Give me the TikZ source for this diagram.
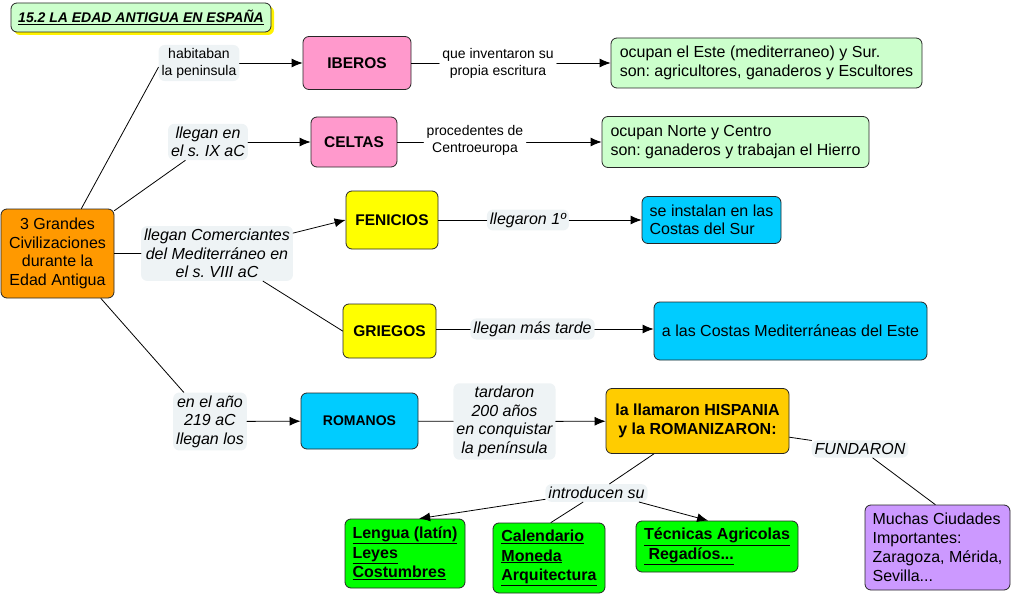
\documentclass[tikz,border=0pt]{standalone}
\usepackage{fontspec}
\setmainfont{Liberation Sans}
\usepackage{xcolor}
\usetikzlibrary{arrows.meta}
\usetikzlibrary{shadows}
\definecolor{linkfill}{RGB}{238,243,245}
\definecolor{pinkbox}{RGB}{255,153,204}
\definecolor{mintbox}{RGB}{204,255,204}
\definecolor{yellowbox}{RGB}{255,255,0}
\definecolor{skybox}{RGB}{0,204,255}
\definecolor{orangebox}{RGB}{255,153,0}
\definecolor{goldbox}{RGB}{255,204,0}
\definecolor{limebox}{RGB}{0,255,0}
\definecolor{lilacbox}{RGB}{204,153,255}
\frenchspacing
\begin{document}
\begin{tikzpicture}
    [x=1pt,y=-1pt,line cap=round,line join=round,
     conceptbox/.style={draw=black!85,line width=0.8pt,rounded corners=6pt,inner sep=4pt,align=center,
       font=\fontsize{16}{18.5}\selectfont},
     namebox/.style={conceptbox,font=\fontsize{15.5}{18.5}\selectfont\bfseries},
     infobox/.style={conceptbox,align=left},
     linktext/.style={fill=linkfill,rounded corners=6pt,inner sep=3pt,align=center,
       font=\fontsize{14}{17}\selectfont},
     linkitalic/.style={linktext,font=\fontsize{16}{18.5}\selectfont\itshape},
     joinline/.style={line width=0.8pt},
     arrowline/.style={joinline,-{Latex[length=11pt,width=9pt]}}]
\useasboundingbox (0,0) rectangle (1013,594);
%title
\node[conceptbox,fill=mintbox,minimum width=260pt,minimum height=29pt,
      drop shadow={fill=yellow,opacity=1,shadow xshift=3pt,shadow yshift=-3pt},
      font=\fontsize{14}{16}\selectfont\bfseries\itshape] (title) at (141,17.5)
      {\underline{15.2 LA EDAD ANTIGUA EN ESPAÑA}};
%main concept
\node[conceptbox,fill=orangebox,minimum width=113pt,minimum height=89pt] (main) at (57.5,253.5)
      {3 Grandes\\Civilizaciones\\durante la\\Edad Antigua};
%iberos
\node[linktext] (habit) at (199,63) {habitaban\\la peninsula};
\node[namebox,fill=pinkbox,minimum width=108pt,minimum height=53pt] (iberos) at (357,63) {IBEROS};
\node[linktext,fill=white] (inventaron) at (498,63) {que inventaron su\\propia escritura};
\node[infobox,fill=mintbox,minimum width=311pt,minimum height=50pt] (ibinfo) at (766.5,63)
      {ocupan el Este (mediterraneo) y Sur.\\son: agricultores, ganaderos y Escultores};
%celtas
\node[linkitalic] (llegan9) at (208,142) {llegan en\\el s. IX aC};
\node[namebox,fill=pinkbox,minimum width=86pt,minimum height=50pt] (celtas) at (354,142) {CELTAS};
\node[linktext,fill=white] (proced) at (475,140) {procedentes de\\Centroeuropa};
\node[infobox,fill=mintbox,minimum width=267pt,minimum height=51pt] (ceinfo) at (735.5,142)
      {ocupan Norte y Centro\\son: ganaderos y trabajan el Hierro};
%fenicios y griegos
\node[linkitalic] (comerc) at (217,253.5) {llegan Comerciantes\\del Mediterráneo en\\el s. VIII aC};
\node[namebox,fill=yellowbox,minimum width=92pt,minimum height=58pt] (fenicios) at (392,220) {FENICIOS};
\node[linkitalic] (llego1) at (528,220) {llegaron 1º};
\node[infobox,fill=skybox,minimum width=139pt,minimum height=47pt] (feinfo) at (711.5,220)
      {se instalan en las\\Costas del Sur};
\node[namebox,fill=yellowbox,minimum width=93pt,minimum height=54pt] (griegos) at (389.5,331) {GRIEGOS};
\node[linkitalic] (mastarde) at (532.5,329) {llegan más tarde};
\node[conceptbox,fill=skybox,minimum width=273pt,minimum height=58pt] (grinfo) at (790.5,331)
      {a las Costas Mediterráneas del Este};
%romanos
\node[linkitalic] (ano219) at (210,421.5) {en el año\\219 aC\\llegan los};
\node[namebox,fill=skybox,minimum width=117pt,minimum height=56pt,
      font=\fontsize{14}{16}\selectfont\bfseries] (romanos) at (359.5,421) {ROMANOS};
\node[linkitalic] (tardaron) at (504.5,421.5) {tardaron\\200 años\\en conquistar\\la península};
\node[namebox,fill=goldbox,minimum width=183pt,minimum height=65pt,
      font=\fontsize{16}{19}\selectfont\bfseries] (hispania) at (697.5,421)
      {la llamaron HISPANIA\\y la ROMANIZARON:};
\node[linkitalic] (introd) at (596.5,493) {introducen su};
\node[linkitalic] (fundaron) at (860,449) {FUNDARON};
\node[namebox,align=left,fill=limebox,minimum width=120pt,minimum height=69pt,
      font=\fontsize{16}{19.5}\selectfont\bfseries] (lengua) at (405,553.5)
      {\underline{Lengua (latín)}\\\underline{Leyes}\\\underline{Costumbres}};
\node[namebox,align=left,fill=limebox,minimum width=112pt,minimum height=70pt,
      font=\fontsize{16}{19.5}\selectfont\bfseries] (calend) at (549,558)
      {\underline{Calendario}\\\underline{Moneda}\\\underline{Arquitectura}};
\node[namebox,align=left,fill=limebox,minimum width=162pt,minimum height=51pt,
      font=\fontsize{16}{19.5}\selectfont\bfseries] (tecnicas) at (717,546.5)
      {\underline{Técnicas Agricolas}\\\underline{\ Regadíos...}};
\node[infobox,fill=lilacbox,minimum width=145pt,minimum height=85pt,
      font=\fontsize{16}{19}\selectfont] (ciudades) at (937.5,547.5)
      {Muchas Ciudades\\Importantes:\\Zaragoza, Mérida,\\Sevilla...};
%connectors
\draw[joinline] (main.62) -- (habit.186);
\draw[arrowline] (habit) -- (iberos);
\draw[joinline] (iberos) -- (inventaron);
\draw[arrowline] (inventaron) -- (ibinfo);
\draw[joinline] (main.37) -- (llegan9.219);
\draw[arrowline] (llegan9) -- (celtas);
\draw[joinline] (celtas) -- (proced.west |- celtas);
\draw[arrowline] (proced.east |- ceinfo) -- (ceinfo);
\draw[joinline] (main) -- (comerc);
\draw[arrowline] (comerc.15) -- (fenicios.west);
\draw[joinline] (fenicios) -- (llego1);
\draw[arrowline] (llego1) -- (feinfo);
\draw[joinline] (comerc.329) -- (griegos.west);
\draw[joinline] (griegos.east |- mastarde) -- (mastarde);
\draw[arrowline] (mastarde) -- (grinfo.west |- mastarde);
\draw[joinline] (main.314) -- (ano219.132);
\draw[arrowline] (ano219) -- (romanos);
\draw[joinline] (romanos) -- (tardaron);
\draw[arrowline] (tardaron) -- (hispania);
\draw[joinline] (hispania.217) -- (introd.35);
\draw[arrowline] (introd.187) -- (lengua.68);
\draw[joinline] (introd.214) -- (calend.87);
\draw[arrowline] (introd.348) -- (tecnicas.109);
\draw[joinline] (hispania.350) -- (fundaron.170);
\draw[joinline] (fundaron.325) -- (ciudades.93);
\end{tikzpicture}
\end{document}
